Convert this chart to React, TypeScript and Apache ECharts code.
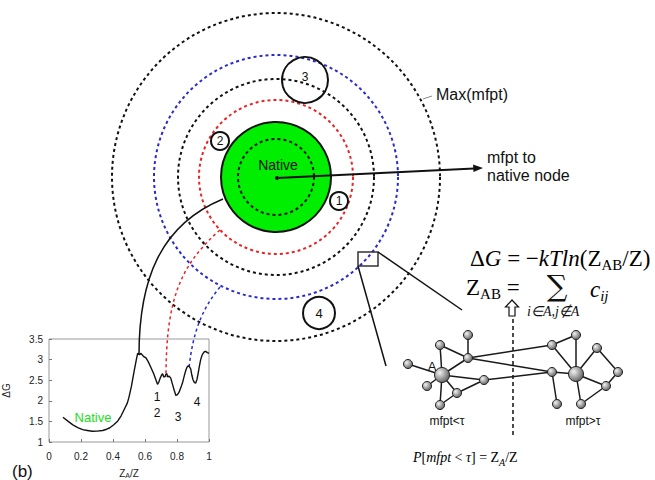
import React, { useEffect, useRef } from 'react';
import * as echarts from 'echarts';

// Inset free-energy profile ΔG vs Z_A/Z
const zaValues = [0.087, 0.12, 0.149, 0.18, 0.21, 0.24, 0.27, 0.30, 0.336, 0.36, 0.378, 0.405, 0.43, 0.45, 0.47, 0.49, 0.50, 0.515, 0.533, 0.545, 0.554, 0.565, 0.575, 0.59, 0.606, 0.62, 0.637, 0.655, 0.668, 0.678, 0.686, 0.695, 0.703, 0.71, 0.717, 0.724, 0.73, 0.736, 0.743, 0.751, 0.761, 0.772, 0.783, 0.793, 0.803, 0.813, 0.824, 0.834, 0.845, 0.855, 0.863, 0.871, 0.879, 0.886, 0.893, 0.90, 0.909, 0.917, 0.925, 0.932, 0.94, 0.948, 0.956, 0.963, 0.971, 0.979, 0.99, 1.0];
const dgValues = [1.60, 1.50, 1.415, 1.35, 1.30, 1.28, 1.26, 1.265, 1.28, 1.31, 1.34, 1.42, 1.51, 1.63, 1.79, 1.95, 2.09, 2.35, 2.74, 2.98, 3.15, 3.12, 3.15, 3.08, 3.04, 2.95, 2.81, 2.65, 2.51, 2.40, 2.45, 2.55, 2.62, 2.66, 2.58, 2.58, 2.64, 2.66, 2.58, 2.60, 2.55, 2.40, 2.25, 2.13, 2.15, 2.21, 2.32, 2.43, 2.60, 2.74, 2.82, 2.85, 2.82, 2.77, 2.62, 2.51, 2.44, 2.43, 2.52, 2.66, 2.84, 3.00, 3.10, 3.15, 3.19, 3.20, 3.17, 3.15];

// Illustration: network of nodes (left basin A, right basin)
const netNodes: [string, number, number, number][] = [
  ['A', 442, 375, 7.5], ['R', 576, 374, 7.5],
  ['n1', 468, 335, 4.5], ['n2', 440, 345, 4.5], ['n3', 468, 358, 4.5], ['n4', 408, 364, 4.5],
  ['n5', 427, 386, 4.5], ['n6', 484, 380, 4.5], ['n7', 457, 393, 4.5], ['n8', 440, 405, 4.5],
  ['m1', 576, 335, 4.5], ['m2', 552, 345, 4.5], ['m3', 597, 348, 4.5], ['m4', 552, 372, 4.5],
  ['m5', 618, 372, 4.5], ['m6', 606, 386, 4.5], ['m7', 557, 404, 4.5], ['m8', 581, 404, 4.5],
];
const netEdges: [string, string][] = [
  ['A', 'n4'], ['A', 'n2'], ['A', 'n3'], ['A', 'n5'], ['A', 'n6'], ['A', 'n7'], ['A', 'n8'],
  ['n1', 'n3'], ['n2', 'n3'], ['n3', 'm2'], ['n3', 'm4'], ['n6', 'm4'], ['n6', 'n7'], ['n7', 'n8'],
  ['m1', 'm2'], ['m2', 'R'], ['m1', 'R'], ['m4', 'R'], ['m4', 'm7'], ['R', 'm8'], ['R', 'm6'],
  ['m8', 'm6'], ['R', 'm3'], ['m3', 'm5'], ['m5', 'm6'],
];

const CX = 276;
const CY = 177;
const SANS = 'Liberation Sans';
const SERIF = 'Liberation Serif';

function ring(r: number, color: string): any {
  return {
    type: 'circle', silent: true,
    shape: { cx: CX, cy: CY, r },
    style: { fill: 'none', stroke: color, lineWidth: 2, lineDash: [3, 3] },
  };
}

function labelCircle(cx: number, cy: number, r: number, label: string, fs: number, dy = 0): any[] {
  return [
    { type: 'circle', silent: true, shape: { cx, cy, r }, style: { fill: 'none', stroke: '#111', lineWidth: 2 } },
    { type: 'text', silent: true, x: cx, y: cy + dy, style: { text: label, fill: '#111', font: `${fs}px ${SANS}`, align: 'center', verticalAlign: 'middle' } },
  ];
}

function buildGraphic(): any[] {
  const g: any[] = [];
  // concentric mfpt shells
  g.push(ring(164, '#111'));
  g.push(ring(122, '#2b2bcc'));
  g.push(ring(98, '#111'));
  g.push(ring(77, '#e82424'));
  // native basin
  g.push({ type: 'circle', silent: true, shape: { cx: CX, cy: CY, r: 55 }, style: { fill: '#00ee00', stroke: '#111', lineWidth: 2 } });
  g.push(ring(38, '#111'));
  g.push({ type: 'text', silent: true, x: 278, y: 165, style: { text: 'Native', fill: '#111', font: `14px ${SANS}`, align: 'center', verticalAlign: 'middle' } });
  // arrow to label
  g.push({ type: 'line', silent: true, shape: { x1: CX + 1, y1: CY + 1, x2: 474, y2: 168.5 }, style: { stroke: '#111', lineWidth: 2 } });
  g.push({ type: 'polygon', silent: true, shape: { points: [[483, 168], [473, 164.5], [473.5, 172]] }, style: { fill: '#111' } });
  g.push({ type: 'circle', silent: true, shape: { cx: CX + 1, cy: CY + 1, r: 2 }, style: { fill: '#111' } });
  // numbered states
  g.push(...labelCircle(305, 80, 23, '3', 12, -3));
  g.push(...labelCircle(220, 141, 9, '2', 12));
  g.push(...labelCircle(339, 201, 9, '1', 12));
  g.push(...labelCircle(319, 313, 16, '4', 13));
  // labels
  g.push({ type: 'line', silent: true, shape: { x1: 423, y1: 99, x2: 432, y2: 96 }, style: { stroke: '#888', lineWidth: 1 } });
  g.push({ type: 'text', silent: true, x: 436, y: 94, style: { text: 'Max(mfpt)', fill: '#111', font: `16px ${SANS}`, align: 'left', verticalAlign: 'middle' } });
  g.push({ type: 'text', silent: true, x: 487, y: 157, style: { text: 'mfpt to', fill: '#111', font: `16px ${SANS}`, align: 'left', verticalAlign: 'middle' } });
  g.push({ type: 'text', silent: true, x: 487, y: 175, style: { text: 'native node', fill: '#111', font: `16px ${SANS}`, align: 'left', verticalAlign: 'middle' } });
  // connectors to inset profile
  g.push({ type: 'bezierCurve', silent: true, shape: { x1: 223, y1: 199, cpx1: 160, cpy1: 225, cpx2: 139, cpy2: 280, x2: 139, y2: 355 }, style: { fill: 'none', stroke: '#111', lineWidth: 1.5 } });
  g.push({ type: 'bezierCurve', silent: true, shape: { x1: 220, y1: 230, cpx1: 180, cpy1: 265, cpx2: 166, cpy2: 300, x2: 166, y2: 377 }, style: { fill: 'none', stroke: '#e82424', lineWidth: 1.5, lineDash: [3, 3] } });
  g.push({ type: 'bezierCurve', silent: true, shape: { x1: 220, y1: 287, cpx1: 203, cpy1: 308, cpx2: 193, cpy2: 330, x2: 189, y2: 368 }, style: { fill: 'none', stroke: '#2b2bcc', lineWidth: 1.5, lineDash: [3, 3] } });
  // zoom box and lines to network
  g.push({ type: 'rect', silent: true, shape: { x: 358, y: 252, width: 20, height: 14 }, style: { fill: 'none', stroke: '#333', lineWidth: 1.5 } });
  g.push({ type: 'line', silent: true, shape: { x1: 358, y1: 266, x2: 386, y2: 366 }, style: { stroke: '#111', lineWidth: 1.5 } });
  g.push({ type: 'line', silent: true, shape: { x1: 378, y1: 252, x2: 462, y2: 310 }, style: { stroke: '#111', lineWidth: 1.5 } });
  // formulas
  const rich = {
    rm: { fontFamily: SERIF, fontSize: 23, lineHeight: 28, color: '#111' },
    it: { fontFamily: SERIF, fontSize: 23, lineHeight: 28, fontStyle: 'italic', color: '#111' },
    sub: { fontFamily: SERIF, fontSize: 15, lineHeight: 15, verticalAlign: 'bottom', color: '#111' },
    subit: { fontFamily: SERIF, fontSize: 15, lineHeight: 15, verticalAlign: 'bottom', fontStyle: 'italic', color: '#111' },
  };
  g.push({ type: 'text', silent: true, x: 470, y: 258, style: { text: '{rm|Δ}{it|G}{rm| = −}{it|kTln}{rm|(Z}{sub|AB}{rm|/Z)}', rich, align: 'left', verticalAlign: 'middle' } });
  g.push({ type: 'text', silent: true, x: 466, y: 287, style: { text: '{rm|Z}{sub|AB}{rm| =}', rich, align: 'left', verticalAlign: 'middle' } });
  g.push({ type: 'text', silent: true, x: 557, y: 286, style: { text: '∑', fill: '#111', font: `29px 'DejaVu Serif'`, align: 'center', verticalAlign: 'middle' } });
  g.push({ type: 'text', silent: true, x: 590, y: 289, style: { text: '{it|c}{subit|ij}', rich, align: 'left', verticalAlign: 'middle' } });
  g.push({ type: 'text', silent: true, x: 527, y: 311, style: { text: 'i∈A,j∉A', fill: '#111', font: `italic 14px ${SERIF}`, align: 'left', verticalAlign: 'middle' } });
  g.push({ type: 'polygon', silent: true, shape: { points: [[512, 300], [518.5, 307], [515, 307], [515, 316], [509, 316], [509, 307], [505.5, 307]] }, style: { fill: '#fff', stroke: '#111', lineWidth: 1.2 } });
  g.push({ type: 'line', silent: true, shape: { x1: 513, y1: 319, x2: 513, y2: 437 }, style: { stroke: '#111', lineWidth: 1.5, lineDash: [4, 3] } });
  // network
  const pos: Record<string, [number, number, number]> = {};
  netNodes.forEach(([n, x, y, r]) => { pos[n] = [x, y, r]; });
  netEdges.forEach(([a, b]) => {
    g.push({ type: 'line', silent: true, shape: { x1: pos[a][0], y1: pos[a][1], x2: pos[b][0], y2: pos[b][1] }, style: { stroke: '#1a1a1a', lineWidth: 1.5 } });
  });
  netNodes.forEach(([, x, y, r]) => {
    g.push({
      type: 'circle', silent: true, shape: { cx: x, cy: y, r },
      style: {
        fill: { type: 'radial', x: 0.35, y: 0.35, r: 0.75, colorStops: [{ offset: 0, color: '#f2f2f2' }, { offset: 1, color: '#555' }] },
        stroke: '#222', lineWidth: 1,
      },
    });
  });
  g.push({ type: 'text', silent: true, x: 432, y: 366, style: { text: 'A', fill: '#111', font: `13px ${SANS}`, align: 'center', verticalAlign: 'middle' } });
  g.push({ type: 'text', silent: true, x: 447, y: 421, style: { text: 'mfpt<τ', fill: '#111', font: `12px ${SANS}`, align: 'center', verticalAlign: 'middle' } });
  g.push({ type: 'text', silent: true, x: 583, y: 421, style: { text: 'mfpt>τ', fill: '#111', font: `12px ${SANS}`, align: 'center', verticalAlign: 'middle' } });
  g.push({ type: 'text', silent: true, x: 413, y: 457, style: { text: '{it|P}{rm|[}{it|mfpt}{rm| < }{it|τ}{rm|] = Z}{sub|A}{rm|/Z}', rich: {
    rm: { fontFamily: SERIF, fontSize: 14, lineHeight: 20, color: '#111' },
    it: { fontFamily: SERIF, fontSize: 14, lineHeight: 20, fontStyle: 'italic', color: '#111' },
    sub: { fontFamily: SERIF, fontSize: 10, lineHeight: 10, verticalAlign: 'bottom', fontStyle: 'italic', color: '#111' },
  }, align: 'left', verticalAlign: 'middle' } });
  // inset labels
  const inset = (t: string, x: number, y: number, color = '#111', fs = 12) => ({ type: 'text', silent: true, x, y, style: { text: t, fill: color, font: `${fs}px ${SANS}`, align: 'center', verticalAlign: 'middle' } });
  g.push(inset('1', 157, 397));
  g.push(inset('2', 157, 413));
  g.push(inset('3', 178, 417));
  g.push(inset('4', 197, 402));
  g.push(inset('Native', 93, 417, '#22dd22', 13));
  g.push({ type: 'text', silent: true, x: 12, y: 471, style: { text: '(b)', fill: '#111', font: `17px ${SANS}`, align: 'left', verticalAlign: 'middle' } });
  return g;
}

export default function App() {
  const ref = useRef<HTMLDivElement>(null);
  useEffect(() => {
    document.body.style.margin = '0';
    if (!ref.current) return;
    const chart = echarts.init(ref.current, null, { renderer: 'svg' });
    const series = zaValues.map((x, i) => [x, dgValues[i]]);
    chart.setOption({
      animation: false,
      backgroundColor: '#fff',
      grid: { left: 49, top: 339, width: 160, height: 110, show: true, borderColor: '#999', borderWidth: 1, backgroundColor: 'transparent' },
      xAxis: {
        type: 'value', min: 0, max: 1, interval: 0.2,
        name: '{n|Z}{s|A}{n|/Z}', nameLocation: 'middle', nameGap: 25,
        nameTextStyle: { rich: { n: { fontSize: 10, fontFamily: SANS, color: '#222', lineHeight: 12 }, s: { fontSize: 7, fontFamily: SANS, color: '#222', verticalAlign: 'bottom', lineHeight: 8 } } },
        axisLine: { show: false },
        axisTick: { show: true, inside: true, length: 3, lineStyle: { color: '#777' } },
        axisLabel: { fontSize: 10, fontFamily: SANS, color: '#222', margin: 9 },
        splitLine: { show: false },
      },
      yAxis: {
        type: 'value', min: 1, max: 3.5, interval: 0.5,
        name: 'ΔG', nameLocation: 'middle', nameGap: 38, nameRotate: 90,
        nameTextStyle: { fontSize: 10, fontFamily: SANS, color: '#222' },
        axisLine: { show: false },
        axisTick: { show: true, inside: true, length: 3, lineStyle: { color: '#777' } },
        axisLabel: { fontSize: 10, fontFamily: SANS, color: '#222', margin: 6 },
        splitLine: { show: false },
      },
      series: [{
        type: 'line', data: series, showSymbol: false, symbol: 'none', smooth: false,
        lineStyle: { color: '#111', width: 1.4 }, z: 3,
      }],
      graphic: buildGraphic(),
    });
    return () => chart.dispose();
  }, []);
  return <div ref={ref} style={{ width: 655, height: 480 }} />;
}
